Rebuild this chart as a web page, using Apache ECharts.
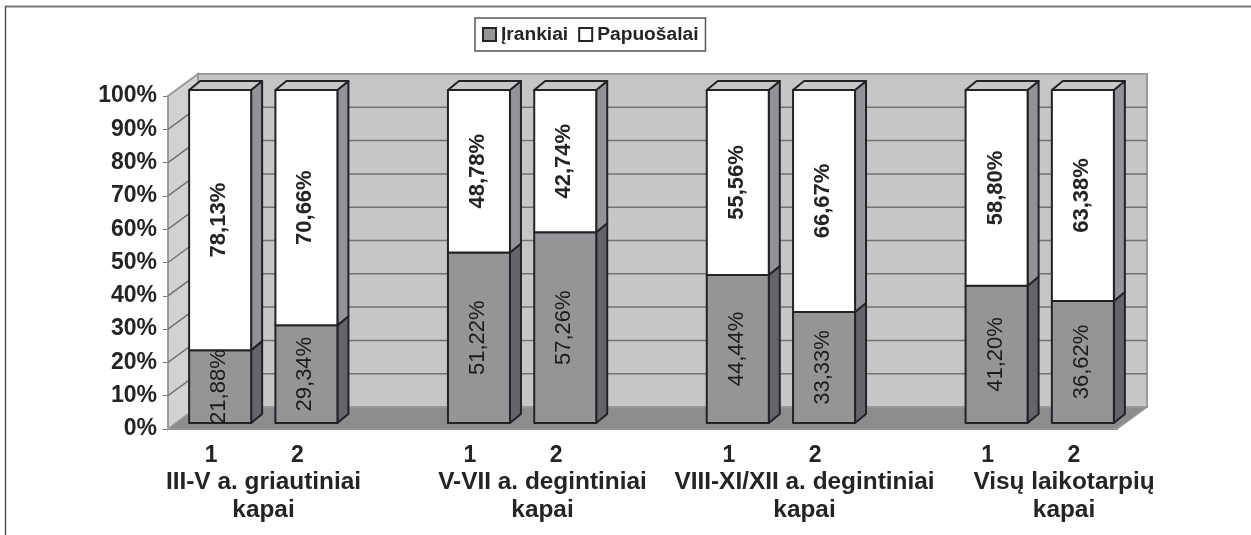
<!DOCTYPE html>
<html>
<head>
<meta charset="utf-8">
<style>
  html, body { margin: 0; padding: 0; background: #fff; }
  #chart { width: 1251px; height: 535px; }
</style>
<script src="https://cdn.jsdelivr.net/npm/echarts@6/dist/echarts.min.js"></script>
</head>
<body>
<div id="chart"></div>
<script>
// blanks in the categories are the gaps between the four groups
const categories = ['1', '2', '', '1', '2', '', '1', '2', '', '1', '2']
const tools = [21.88, 29.34, null, 51.22, 57.26, null, 44.44, 33.33, null, 41.20, 36.62]
const ornaments = [78.13, 70.66, null, 48.78, 42.74, null, 55.56, 66.67, null, 58.80, 63.38]
const yTicks = [0, 10, 20, 30, 40, 50, 60, 70, 80, 90, 100]
const groupTitles = [
  'III-V a. griautiniai\nkapai',
  'V-VII a. degintiniai\nkapai',
  'VIII-XI/XII a. degintiniai\nkapai',
  'Visų laikotarpių\nkapai',
]
// titles sit off-centre from their bar pairs in the original
const groupTitleX = [263.5, 542.5, 804.5, 1064]

const FONT = '"Liberation Sans", Arial, sans-serif'
const TEXT = '#242426'
const WALL_DX = 30
const WALL_DY = 22
const BAR_DX = 11
const BAR_DY = 9
const BAR_W = 62
const LINE = '#232325'

function formatLabel(v) {
  return v.toFixed(2).replace('.', ',') + '%'
}

function renderWall(params, api) {
  const sys = params.coordSys
  const x0 = sys.x
  const x1 = sys.x + sys.width
  const y0 = api.coord([0, 0])[1]
  const y1 = api.coord([0, 100])[1]
  const children = [
    // back wall
    { type: 'polygon', shape: { points: [[x0 + WALL_DX, y1 - WALL_DY], [x1 + WALL_DX, y1 - WALL_DY], [x1 + WALL_DX, y0 - WALL_DY], [x0 + WALL_DX, y0 - WALL_DY]] },
      style: { fill: '#c6c6c8', stroke: '#9b9b9d', lineWidth: 2 } },
    // side wall
    { type: 'polygon', shape: { points: [[x0, y1], [x0 + WALL_DX, y1 - WALL_DY], [x0 + WALL_DX, y0 - WALL_DY], [x0, y0]] },
      style: { fill: '#d2d2d3', stroke: '#9b9b9d', lineWidth: 2 } },
    // floor
    { type: 'polygon', shape: { points: [[x0, y0], [x0 + WALL_DX, y0 - WALL_DY], [x1 + WALL_DX, y0 - WALL_DY], [x1, y0]] },
      style: { fill: '#8c8c8f', stroke: '#9b9b9d', lineWidth: 1.5 } },
  ]
  yTicks.slice(1, -1).forEach(t => {
    const y = api.coord([0, t])[1]
    children.push({ type: 'polyline', shape: { points: [[x0, y], [x0 + WALL_DX, y - WALL_DY], [x1 + WALL_DX, y - WALL_DY]] },
      style: { fill: 'none', stroke: '#737375', lineWidth: 1.5 } })
  })
  return { type: 'group', children }
}

function barShapes(api, low, high, colors, label, bold, withTop) {
  const c = api.coord([api.value(0), 0])[0]
  const xl = c - 22
  const xr = xl + BAR_W
  // bars stand slightly in front of the back wall, 6px above the axis line
  const yb = api.coord([0, low])[1] - 6
  const yt = api.coord([0, high])[1] - 6
  const outline = { stroke: LINE, lineWidth: 2, lineJoin: 'round' }
  const children = [
    { type: 'polygon', shape: { points: [[xr, yb], [xr + BAR_DX, yb - BAR_DY], [xr + BAR_DX, yt - BAR_DY], [xr, yt]] },
      style: { fill: colors.side, ...outline } },
    { type: 'rect', shape: { x: xl, y: yt, width: BAR_W, height: yb - yt },
      style: { fill: colors.front, ...outline } },
  ]
  if (withTop) {
    children.push({ type: 'polygon', shape: { points: [[xl, yt], [xl + BAR_DX, yt - BAR_DY], [xr + BAR_DX, yt - BAR_DY], [xr, yt]] },
      style: { fill: colors.top, ...outline } })
  }
  children.push({
    type: 'text', x: xl + BAR_W / 2 - 1, y: (yt + yb) / 2, rotation: Math.PI / 2,
    style: { text: label, align: 'center', verticalAlign: 'middle', fill: bold ? TEXT : '#1c1c1e', font: `${bold ? 'bold ' : ''}22px ${FONT}` },
  })
  return { type: 'group', children }
}

function renderTools(params, api) {
  const v = api.value(1)
  return barShapes(api, 0, v, { front: '#959598', side: '#636569' }, formatLabel(v), false, false)
}

function renderOrnaments(params, api) {
  const i = api.value(0)
  const v = api.value(1)
  return barShapes(api, tools[i], Math.min(tools[i] + v, 100), { front: '#ffffff', side: '#929396', top: '#c8c8ca' }, formatLabel(v), true, true)
}

function pairs(values) {
  return values.map((v, i) => [i, v]).filter(d => d[1] != null)
}

const titleGraphics = groupTitles.map((title, g) => ({
  type: 'text', x: groupTitleX[g], y: 496,
  style: { text: title, align: 'center', verticalAlign: 'middle', lineHeight: 28, fill: TEXT, font: `bold 24.4px ${FONT}` },
}))

const chart = echarts.init(document.getElementById('chart'))
chart.setOption({
  animation: false,
  backgroundColor: '#fff',
  grid: { left: 168, right: 134, top: 96, bottom: 106 },
  legend: {
    left: 475, top: 18,
    padding: [7, 7, 7, 7],
    data: ['Įrankiai', 'Papuošalai'],
    icon: 'rect',
    itemWidth: 13, itemHeight: 13, itemGap: 10,
    borderColor: '#555', borderWidth: 1.5,
    textStyle: { fontFamily: FONT, fontWeight: 'bold', fontSize: 19.2, color: TEXT },
  },
  xAxis: {
    type: 'category',
    data: categories,
    axisLine: { lineStyle: { color: '#77777a', width: 2 } },
    axisTick: { length: 6, lineStyle: { color: '#77777a', width: 1 } },
    axisLabel: { interval: 0, margin: 15, color: TEXT, fontFamily: FONT, fontWeight: 'bold', fontSize: 23 },
  },
  yAxis: {
    type: 'value',
    min: 0, max: 100, interval: 10,
    axisLine: { show: true, lineStyle: { color: '#77777a', width: 2 } },
    axisTick: { show: true, length: 5, lineStyle: { color: '#77777a' } },
    axisLabel: { formatter: '{value}%', margin: 11, padding: [5, 0, 0, 0], color: TEXT, fontFamily: FONT, fontWeight: 'bold', fontSize: 23 },
    splitLine: { show: false },
  },
  series: [
    { type: 'custom', name: 'wall', silent: true, z: 1, renderItem: renderWall, data: [[0, 0]] },
    { type: 'custom', name: 'Įrankiai', z: 2, renderItem: renderTools, data: pairs(tools),
      encode: { x: 0, y: 1 }, itemStyle: { color: '#959598', borderColor: LINE, borderWidth: 1 } },
    { type: 'custom', name: 'Papuošalai', z: 3, renderItem: renderOrnaments, data: pairs(ornaments),
      encode: { x: 0, y: 1 }, itemStyle: { color: '#ffffff', borderColor: LINE, borderWidth: 1 } },
  ],
  graphic: [
    { type: 'line', shape: { x1: 5, y1: 6.5, x2: 1251, y2: 6.5 }, style: { stroke: '#77777a', lineWidth: 2 } },
    { type: 'line', shape: { x1: 5.5, y1: 6, x2: 5.5, y2: 535 }, style: { stroke: '#555557', lineWidth: 1.5 } },
    ...titleGraphics,
  ],
})
</script>
</body>
</html>
